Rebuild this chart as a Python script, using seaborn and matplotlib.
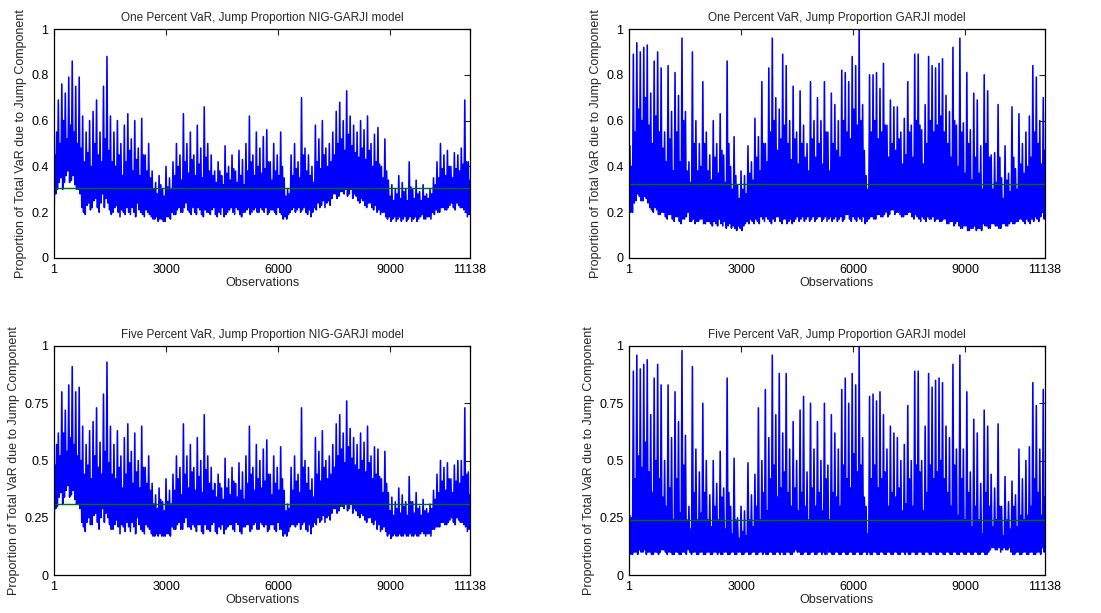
import numpy as np
import pandas as pd
import matplotlib
matplotlib.use("Agg")
import matplotlib.pyplot as plt
import seaborn as sns

# ---------------- data ----------------
n_obs = 11138
x_ticks = [1, 3000, 6000, 9000, 11138]
x_ticklabels = ["1", "3000", "6000", "9000", "11138"]
y_ticks_top = [0, 0.2, 0.4, 0.6, 0.8, 1]
y_ticklabels_top = ["0", "0.2", "0.4", "0.6", "0.8", "1"]
y_ticks_bot = [0, 0.25, 0.5, 0.75, 1]
y_ticklabels_bot = ["0", "0.25", "0.5", "0.75", "1"]

titles = [
    "One Percent VaR, Jump Proportion NIG-GARJI model",
    "One Percent VaR, Jump Proportion GARJI model",
    "Five Percent VaR, Jump Proportion NIG-GARJI model",
    "Five Percent VaR, Jump Proportion GARJI model",
]
mean_levels = [0.305, 0.325, 0.312, 0.238]

# Each series is read as 120 consecutive blocks of ~93 observations.
# Per block: a low, a spike high, a second low and a within-band high.

# ---- One percent, NIG-GARJI ----
nig1_lo = [0.15, 0.30, 0.35, 0.33, 0.38, 0.34, 0.32, 0.30, 0.22, 0.19,
           0.24, 0.22, 0.26, 0.20, 0.28, 0.26, 0.21, 0.20, 0.23, 0.18,
           0.20, 0.22, 0.19, 0.20, 0.24, 0.20, 0.18, 0.20, 0.18, 0.17,
           0.16, 0.17, 0.16, 0.18, 0.20, 0.19, 0.22, 0.20, 0.24, 0.20,
           0.22, 0.19, 0.21, 0.18, 0.20, 0.19, 0.22, 0.18, 0.19, 0.18,
           0.20, 0.22, 0.19, 0.21, 0.18, 0.20, 0.22, 0.20, 0.22, 0.20,
           0.21, 0.22, 0.20, 0.21, 0.19, 0.20, 0.17, 0.17, 0.20, 0.22,
           0.21, 0.20, 0.22, 0.19, 0.18, 0.22, 0.24, 0.23, 0.22, 0.25,
           0.26, 0.28, 0.27, 0.29, 0.30, 0.28, 0.26, 0.27, 0.24, 0.25,
           0.22, 0.24, 0.21, 0.20, 0.19, 0.20, 0.17, 0.16, 0.18, 0.17,
           0.16, 0.18, 0.17, 0.16, 0.18, 0.17, 0.19, 0.17, 0.18, 0.20,
           0.21, 0.20, 0.22, 0.21, 0.23, 0.22, 0.24, 0.22, 0.21, 0.18]
nig1_hi = [0.45, 0.69, 0.76, 0.72, 0.79, 0.86, 0.75, 0.79, 0.62, 0.55,
           0.60, 0.64, 0.69, 0.55, 0.75, 0.88, 0.62, 0.55, 0.60, 0.50,
           0.58, 0.63, 0.52, 0.60, 0.48, 0.61, 0.45, 0.50, 0.38, 0.33,
           0.36, 0.30, 0.40, 0.35, 0.42, 0.50, 0.45, 0.63, 0.50, 0.55,
           0.45, 0.58, 0.48, 0.66, 0.50, 0.45, 0.38, 0.42, 0.36, 0.49,
           0.40, 0.45, 0.38, 0.47, 0.43, 0.50, 0.62, 0.45, 0.55, 0.48,
           0.53, 0.56, 0.42, 0.50, 0.45, 0.55, 0.35, 0.30, 0.45, 0.50,
           0.42, 0.70, 0.48, 0.45, 0.40, 0.58, 0.52, 0.60, 0.48, 0.50,
           0.55, 0.64, 0.68, 0.60, 0.73, 0.62, 0.58, 0.55, 0.60, 0.56,
           0.62, 0.50, 0.54, 0.57, 0.40, 0.52, 0.34, 0.32, 0.30, 0.36,
           0.33, 0.30, 0.42, 0.30, 0.34, 0.29, 0.32, 0.28, 0.30, 0.35,
           0.42, 0.50, 0.45, 0.47, 0.40, 0.46, 0.45, 0.48, 0.69, 0.42]
nig1_lo2 = [0.28, 0.33, 0.30, 0.36, 0.33, 0.36, 0.30, 0.28, 0.20, 0.23,
            0.21, 0.25, 0.22, 0.24, 0.22, 0.24, 0.19, 0.22, 0.20, 0.21,
            0.19, 0.20, 0.22, 0.18, 0.21, 0.19, 0.21, 0.19, 0.17, 0.18,
            0.17, 0.16, 0.18, 0.17, 0.19, 0.21, 0.20, 0.22, 0.21, 0.19,
            0.20, 0.22, 0.19, 0.21, 0.20, 0.21, 0.19, 0.20, 0.22, 0.19,
            0.21, 0.20, 0.22, 0.19, 0.20, 0.21, 0.19, 0.21, 0.20, 0.22,
            0.20, 0.19, 0.21, 0.20, 0.22, 0.19, 0.18, 0.19, 0.21, 0.20,
            0.22, 0.21, 0.20, 0.21, 0.20, 0.21, 0.22, 0.25, 0.24, 0.23,
            0.28, 0.26, 0.29, 0.28, 0.27, 0.30, 0.28, 0.25, 0.26, 0.23,
            0.24, 0.22, 0.23, 0.21, 0.20, 0.18, 0.18, 0.17, 0.16, 0.18,
            0.17, 0.16, 0.18, 0.17, 0.16, 0.18, 0.17, 0.18, 0.17, 0.19,
            0.20, 0.22, 0.21, 0.22, 0.24, 0.21, 0.23, 0.22, 0.20, 0.19]
nig1_mid = [0.55, 0.50, 0.60, 0.52, 0.58, 0.55, 0.50, 0.48, 0.42, 0.46,
            0.40, 0.50, 0.45, 0.42, 0.52, 0.47, 0.42, 0.40, 0.45, 0.36,
            0.42, 0.47, 0.38, 0.43, 0.36, 0.45, 0.38, 0.35, 0.30, 0.28,
            0.32, 0.27, 0.31, 0.30, 0.36, 0.40, 0.34, 0.42, 0.37, 0.43,
            0.36, 0.41, 0.35, 0.44, 0.38, 0.36, 0.33, 0.38, 0.32, 0.37,
            0.34, 0.39, 0.33, 0.36, 0.32, 0.38, 0.42, 0.36, 0.40, 0.37,
            0.39, 0.42, 0.34, 0.38, 0.36, 0.40, 0.27, 0.28, 0.36, 0.39,
            0.35, 0.45, 0.38, 0.36, 0.33, 0.42, 0.39, 0.45, 0.40, 0.42,
            0.45, 0.50, 0.52, 0.47, 0.54, 0.49, 0.46, 0.44, 0.48, 0.43,
            0.47, 0.40, 0.42, 0.41, 0.35, 0.38, 0.27, 0.25, 0.28, 0.26,
            0.29, 0.25, 0.31, 0.26, 0.28, 0.25, 0.27, 0.26, 0.28, 0.32,
            0.35, 0.39, 0.36, 0.40, 0.35, 0.39, 0.38, 0.41, 0.42, 0.34]

# ---- One percent, GARJI ----
garji1_lo = [0.17, 0.20, 0.25, 0.27, 0.25, 0.26, 0.22, 0.20, 0.21, 0.19,
             0.20, 0.17, 0.19, 0.16, 0.18, 0.15, 0.17, 0.20, 0.16, 0.15,
             0.16, 0.17, 0.15, 0.16, 0.14, 0.15, 0.17, 0.14, 0.13, 0.15,
             0.14, 0.12, 0.13, 0.14, 0.16, 0.17, 0.15, 0.16, 0.18, 0.16,
             0.17, 0.15, 0.16, 0.18, 0.15, 0.17, 0.16, 0.15, 0.17, 0.16,
             0.18, 0.17, 0.16, 0.18, 0.17, 0.18, 0.17, 0.16, 0.18, 0.17,
             0.16, 0.18, 0.17, 0.19, 0.16, 0.17, 0.18, 0.16, 0.15, 0.17,
             0.18, 0.17, 0.19, 0.18, 0.20, 0.19, 0.21, 0.20, 0.19, 0.18,
             0.19, 0.20, 0.17, 0.18, 0.16, 0.17, 0.18, 0.17, 0.16, 0.17,
             0.16, 0.17, 0.15, 0.16, 0.15, 0.14, 0.13, 0.14, 0.12, 0.13,
             0.12, 0.13, 0.15, 0.14, 0.13, 0.15, 0.14, 0.13, 0.15, 0.14,
             0.16, 0.15, 0.16, 0.17, 0.15, 0.16, 0.17, 0.18, 0.16, 0.20]
garji1_hi = [0.49, 0.89, 0.94, 0.90, 0.92, 0.93, 0.72, 0.86, 0.90, 0.83,
             0.55, 0.84, 0.64, 0.81, 0.71, 0.96, 0.64, 0.42, 0.90, 0.60,
             0.50, 0.77, 0.55, 0.45, 0.60, 0.50, 0.63, 0.45, 0.86, 0.40,
             0.53, 0.32, 0.38, 0.36, 0.49, 0.42, 0.61, 0.53, 0.77, 0.50,
             0.83, 0.96, 0.70, 0.65, 0.89, 0.84, 0.60, 0.75, 0.55, 0.73,
             0.58, 0.50, 0.77, 0.60, 0.70, 0.60, 0.77, 0.55, 0.72, 0.67,
             0.60, 0.82, 0.81, 0.77, 0.88, 0.84, 1.00, 0.67, 0.36, 0.80,
             0.80, 0.81, 0.74, 0.85, 0.58, 0.69, 0.66, 0.66, 0.55, 0.61,
             0.77, 0.58, 0.89, 0.89, 0.56, 0.67, 0.88, 0.84, 0.83, 0.85,
             0.87, 0.71, 0.64, 0.92, 0.58, 0.96, 0.59, 0.81, 0.56, 0.72,
             0.69, 0.49, 0.80, 0.73, 0.45, 0.46, 0.67, 0.35, 0.49, 0.37,
             0.66, 0.39, 0.63, 0.50, 0.55, 0.62, 0.84, 0.79, 0.60, 0.70]
garji1_lo2 = [0.20, 0.24, 0.28, 0.25, 0.27, 0.24, 0.21, 0.22, 0.19, 0.20,
              0.18, 0.19, 0.17, 0.18, 0.16, 0.17, 0.18, 0.16, 0.17, 0.16,
              0.17, 0.15, 0.16, 0.15, 0.16, 0.14, 0.15, 0.16, 0.14, 0.13,
              0.13, 0.14, 0.12, 0.15, 0.15, 0.16, 0.17, 0.15, 0.17, 0.18,
              0.16, 0.17, 0.18, 0.16, 0.17, 0.15, 0.17, 0.16, 0.18, 0.17,
              0.16, 0.18, 0.17, 0.16, 0.18, 0.16, 0.18, 0.17, 0.16, 0.18,
              0.17, 0.16, 0.19, 0.17, 0.18, 0.16, 0.17, 0.18, 0.16, 0.18,
              0.17, 0.19, 0.18, 0.19, 0.18, 0.21, 0.19, 0.20, 0.18, 0.19,
              0.20, 0.18, 0.19, 0.17, 0.18, 0.16, 0.17, 0.18, 0.17, 0.16,
              0.17, 0.15, 0.16, 0.14, 0.16, 0.13, 0.14, 0.12, 0.13, 0.14,
              0.13, 0.12, 0.14, 0.13, 0.15, 0.14, 0.13, 0.15, 0.14, 0.15,
              0.15, 0.16, 0.17, 0.16, 0.17, 0.15, 0.16, 0.17, 0.18, 0.17]
garji1_mid = [0.40, 0.55, 0.65, 0.60, 0.70, 0.58, 0.50, 0.62, 0.55, 0.48,
              0.42, 0.52, 0.38, 0.55, 0.42, 0.60, 0.38, 0.33, 0.50, 0.38,
              0.40, 0.50, 0.38, 0.34, 0.44, 0.37, 0.47, 0.33, 0.50, 0.30,
              0.36, 0.26, 0.30, 0.28, 0.37, 0.34, 0.44, 0.38, 0.50, 0.42,
              0.55, 0.60, 0.47, 0.52, 0.58, 0.50, 0.43, 0.52, 0.41, 0.50,
              0.44, 0.38, 0.52, 0.44, 0.50, 0.41, 0.55, 0.38, 0.50, 0.47,
              0.44, 0.60, 0.55, 0.52, 0.65, 0.58, 0.60, 0.47, 0.30, 0.55,
              0.60, 0.52, 0.55, 0.58, 0.44, 0.50, 0.47, 0.52, 0.41, 0.45,
              0.55, 0.44, 0.60, 0.58, 0.41, 0.50, 0.60, 0.55, 0.58, 0.62,
              0.55, 0.50, 0.44, 0.60, 0.40, 0.55, 0.37, 0.50, 0.34, 0.44,
              0.37, 0.30, 0.50, 0.44, 0.30, 0.33, 0.44, 0.26, 0.34, 0.29,
              0.44, 0.30, 0.41, 0.37, 0.40, 0.44, 0.55, 0.50, 0.41, 0.47]

# ---- Five percent, NIG-GARJI ----
nig5_lo = [0.15, 0.30, 0.36, 0.34, 0.39, 0.35, 0.33, 0.31, 0.23, 0.19,
           0.25, 0.22, 0.27, 0.20, 0.29, 0.27, 0.22, 0.20, 0.24, 0.18,
           0.21, 0.23, 0.19, 0.21, 0.25, 0.20, 0.18, 0.21, 0.18, 0.17,
           0.17, 0.17, 0.17, 0.18, 0.21, 0.20, 0.23, 0.20, 0.25, 0.21,
           0.22, 0.19, 0.22, 0.18, 0.20, 0.19, 0.23, 0.18, 0.20, 0.18,
           0.21, 0.22, 0.19, 0.22, 0.18, 0.21, 0.22, 0.20, 0.23, 0.20,
           0.22, 0.22, 0.20, 0.22, 0.19, 0.20, 0.17, 0.17, 0.21, 0.22,
           0.22, 0.20, 0.23, 0.19, 0.18, 0.23, 0.25, 0.24, 0.23, 0.26,
           0.27, 0.29, 0.28, 0.30, 0.31, 0.29, 0.27, 0.28, 0.25, 0.26,
           0.23, 0.25, 0.22, 0.20, 0.19, 0.21, 0.17, 0.16, 0.18, 0.17,
           0.17, 0.18, 0.17, 0.17, 0.18, 0.17, 0.19, 0.17, 0.18, 0.20,
           0.21, 0.21, 0.23, 0.22, 0.24, 0.23, 0.25, 0.23, 0.22, 0.19]
nig5_hi = [0.48, 0.62, 0.80, 0.72, 0.83, 0.91, 0.80, 0.82, 0.65, 0.57,
           0.63, 0.67, 0.73, 0.58, 0.79, 0.93, 0.65, 0.57, 0.63, 0.52,
           0.60, 0.66, 0.54, 0.62, 0.50, 0.65, 0.47, 0.52, 0.40, 0.35,
           0.38, 0.32, 0.42, 0.37, 0.44, 0.52, 0.47, 0.66, 0.52, 0.57,
           0.47, 0.60, 0.50, 0.70, 0.52, 0.47, 0.40, 0.44, 0.38, 0.51,
           0.42, 0.47, 0.40, 0.49, 0.45, 0.52, 0.65, 0.47, 0.57, 0.50,
           0.55, 0.59, 0.44, 0.52, 0.47, 0.56, 0.37, 0.31, 0.47, 0.52,
           0.44, 0.73, 0.50, 0.47, 0.42, 0.60, 0.54, 0.63, 0.50, 0.52,
           0.57, 0.66, 0.70, 0.62, 0.76, 0.64, 0.60, 0.57, 0.62, 0.58,
           0.65, 0.52, 0.56, 0.55, 0.42, 0.54, 0.36, 0.34, 0.32, 0.38,
           0.35, 0.32, 0.43, 0.32, 0.36, 0.30, 0.33, 0.29, 0.31, 0.37,
           0.44, 0.50, 0.47, 0.49, 0.42, 0.48, 0.50, 0.50, 0.73, 0.45]
nig5_lo2 = [0.29, 0.34, 0.31, 0.37, 0.34, 0.37, 0.31, 0.29, 0.21, 0.23,
            0.22, 0.26, 0.23, 0.25, 0.23, 0.25, 0.20, 0.22, 0.21, 0.22,
            0.19, 0.21, 0.23, 0.18, 0.22, 0.19, 0.22, 0.20, 0.17, 0.18,
            0.18, 0.17, 0.18, 0.17, 0.20, 0.22, 0.20, 0.23, 0.21, 0.20,
            0.21, 0.22, 0.19, 0.22, 0.20, 0.22, 0.19, 0.21, 0.22, 0.20,
            0.22, 0.20, 0.23, 0.19, 0.21, 0.22, 0.19, 0.22, 0.20, 0.23,
            0.21, 0.19, 0.22, 0.20, 0.23, 0.20, 0.18, 0.19, 0.22, 0.21,
            0.23, 0.22, 0.20, 0.22, 0.21, 0.22, 0.23, 0.26, 0.25, 0.24,
            0.29, 0.27, 0.30, 0.29, 0.28, 0.31, 0.29, 0.26, 0.27, 0.24,
            0.25, 0.23, 0.24, 0.22, 0.20, 0.19, 0.18, 0.17, 0.17, 0.18,
            0.17, 0.17, 0.18, 0.17, 0.17, 0.18, 0.18, 0.18, 0.17, 0.20,
            0.21, 0.23, 0.22, 0.23, 0.25, 0.22, 0.24, 0.23, 0.21, 0.20]
nig5_mid = [0.57, 0.52, 0.62, 0.54, 0.60, 0.57, 0.52, 0.50, 0.44, 0.48,
            0.42, 0.52, 0.47, 0.44, 0.54, 0.49, 0.44, 0.42, 0.47, 0.38,
            0.44, 0.49, 0.40, 0.45, 0.38, 0.47, 0.40, 0.37, 0.31, 0.29,
            0.33, 0.28, 0.32, 0.31, 0.37, 0.42, 0.35, 0.44, 0.38, 0.45,
            0.37, 0.43, 0.36, 0.46, 0.40, 0.37, 0.34, 0.40, 0.33, 0.38,
            0.35, 0.41, 0.34, 0.37, 0.33, 0.40, 0.44, 0.37, 0.42, 0.38,
            0.41, 0.44, 0.35, 0.40, 0.37, 0.42, 0.28, 0.29, 0.37, 0.41,
            0.36, 0.47, 0.40, 0.37, 0.34, 0.44, 0.41, 0.47, 0.42, 0.44,
            0.47, 0.52, 0.55, 0.49, 0.56, 0.51, 0.48, 0.46, 0.50, 0.45,
            0.49, 0.42, 0.44, 0.43, 0.36, 0.40, 0.28, 0.26, 0.29, 0.27,
            0.30, 0.26, 0.32, 0.27, 0.29, 0.26, 0.28, 0.27, 0.29, 0.33,
            0.36, 0.41, 0.37, 0.42, 0.36, 0.41, 0.40, 0.43, 0.44, 0.35]

# ---- Five percent, GARJI ----
garji5_lo = [0.10, 0.09, 0.10, 0.11, 0.10, 0.09, 0.10, 0.09, 0.10, 0.10,
             0.11, 0.09, 0.10, 0.09, 0.10, 0.09, 0.10, 0.11, 0.09, 0.10,
             0.09, 0.10, 0.09, 0.10, 0.09, 0.10, 0.10, 0.09, 0.10, 0.09,
             0.10, 0.09, 0.10, 0.09, 0.10, 0.09, 0.10, 0.09, 0.10, 0.10,
             0.09, 0.10, 0.09, 0.10, 0.10, 0.09, 0.10, 0.09, 0.11, 0.10,
             0.09, 0.10, 0.09, 0.10, 0.09, 0.10, 0.10, 0.09, 0.10, 0.09,
             0.10, 0.09, 0.10, 0.09, 0.10, 0.09, 0.10, 0.09, 0.10, 0.10,
             0.09, 0.10, 0.09, 0.10, 0.09, 0.10, 0.09, 0.10, 0.09, 0.10,
             0.10, 0.09, 0.10, 0.09, 0.10, 0.09, 0.10, 0.09, 0.10, 0.09,
             0.10, 0.09, 0.10, 0.09, 0.10, 0.09, 0.10, 0.09, 0.10, 0.09,
             0.10, 0.09, 0.10, 0.09, 0.11, 0.12, 0.11, 0.10, 0.12, 0.11,
             0.10, 0.09, 0.10, 0.09, 0.10, 0.09, 0.10, 0.09, 0.10, 0.12]
garji5_hi = [0.26, 0.89, 0.96, 0.90, 0.92, 0.94, 0.70, 0.86, 0.92, 0.83,
             0.50, 0.83, 0.60, 0.80, 0.67, 0.98, 0.61, 0.30, 0.91, 0.55,
             0.45, 0.75, 0.50, 0.35, 0.50, 0.40, 0.54, 0.38, 0.86, 0.30,
             0.51, 0.25, 0.30, 0.28, 0.49, 0.35, 0.44, 0.73, 0.50, 0.81,
             0.60, 0.96, 0.70, 0.88, 0.62, 0.88, 0.55, 0.67, 0.50, 0.72,
             0.78, 0.45, 0.75, 0.55, 0.67, 0.50, 0.75, 0.48, 0.70, 0.62,
             0.55, 0.81, 0.86, 0.75, 0.88, 0.83, 1.00, 0.60, 0.30, 0.78,
             0.79, 0.76, 0.80, 0.70, 0.55, 0.65, 0.62, 0.60, 0.50, 0.57,
             0.74, 0.50, 0.89, 0.89, 0.50, 0.65, 0.88, 0.82, 0.85, 0.86,
             0.84, 0.65, 0.60, 0.92, 0.55, 0.96, 0.55, 0.80, 0.45, 0.68,
             0.62, 0.40, 0.72, 0.65, 0.44, 0.38, 0.66, 0.30, 0.43, 0.32,
             0.41, 0.35, 0.55, 0.42, 0.50, 0.56, 0.84, 0.74, 0.55, 0.81]
garji5_lo2 = [0.09, 0.10, 0.09, 0.10, 0.11, 0.10, 0.09, 0.10, 0.09, 0.11,
              0.10, 0.10, 0.09, 0.10, 0.09, 0.10, 0.09, 0.10, 0.10, 0.09,
              0.10, 0.09, 0.10, 0.09, 0.10, 0.09, 0.09, 0.10, 0.09, 0.10,
              0.09, 0.10, 0.09, 0.10, 0.09, 0.10, 0.09, 0.10, 0.09, 0.09,
              0.10, 0.09, 0.10, 0.09, 0.09, 0.10, 0.09, 0.10, 0.10, 0.09,
              0.10, 0.09, 0.10, 0.09, 0.10, 0.09, 0.09, 0.10, 0.09, 0.10,
              0.09, 0.10, 0.09, 0.10, 0.09, 0.10, 0.09, 0.10, 0.09, 0.09,
              0.10, 0.09, 0.10, 0.09, 0.10, 0.09, 0.10, 0.09, 0.10, 0.09,
              0.09, 0.10, 0.09, 0.10, 0.09, 0.10, 0.09, 0.10, 0.09, 0.10,
              0.09, 0.10, 0.09, 0.10, 0.09, 0.10, 0.09, 0.10, 0.09, 0.10,
              0.09, 0.10, 0.09, 0.10, 0.12, 0.11, 0.12, 0.11, 0.11, 0.12,
              0.09, 0.10, 0.09, 0.10, 0.09, 0.10, 0.09, 0.10, 0.09, 0.10]
garji5_mid = [0.25, 0.42, 0.52, 0.47, 0.58, 0.45, 0.36, 0.50, 0.42, 0.34,
              0.30, 0.38, 0.24, 0.42, 0.27, 0.48, 0.24, 0.20, 0.36, 0.24,
              0.27, 0.36, 0.24, 0.21, 0.30, 0.24, 0.34, 0.20, 0.36, 0.18,
              0.24, 0.16, 0.19, 0.17, 0.24, 0.21, 0.30, 0.24, 0.36, 0.28,
              0.42, 0.48, 0.34, 0.38, 0.45, 0.36, 0.30, 0.38, 0.28, 0.36,
              0.30, 0.24, 0.38, 0.30, 0.36, 0.28, 0.42, 0.24, 0.36, 0.34,
              0.30, 0.48, 0.42, 0.38, 0.53, 0.45, 0.48, 0.34, 0.18, 0.42,
              0.48, 0.38, 0.42, 0.45, 0.30, 0.36, 0.34, 0.38, 0.28, 0.31,
              0.42, 0.30, 0.48, 0.45, 0.28, 0.36, 0.48, 0.42, 0.45, 0.50,
              0.42, 0.36, 0.30, 0.48, 0.26, 0.42, 0.24, 0.36, 0.21, 0.30,
              0.24, 0.18, 0.36, 0.30, 0.21, 0.24, 0.30, 0.17, 0.24, 0.20,
              0.30, 0.21, 0.26, 0.24, 0.26, 0.30, 0.42, 0.36, 0.26, 0.34]

series = [
    (nig1_lo, nig1_hi, nig1_lo2, nig1_mid),
    (garji1_lo, garji1_hi, garji1_lo2, garji1_mid),
    (nig5_lo, nig5_hi, nig5_lo2, nig5_mid),
    (garji5_lo, garji5_hi, garji5_lo2, garji5_mid),
]

# ---------------- style ----------------
sns.set_style("white")
plt.rcParams["font.family"] = ["Liberation Sans", "DejaVu Sans"]
fs_title = 8.5
fs = 9

fig = plt.figure(figsize=(11.01, 6.13), dpi=100)
W, H = 1101.0, 613.0
ax_w, ax_h = 416 / W, 229 / H
lefts = [54 / W, 629 / W, 54 / W, 629 / W]
bottoms = [1 - 258 / H, 1 - 258 / H, 1 - 575 / H, 1 - 575 / H]

for k in range(4):
    ax = fig.add_axes([lefts[k], bottoms[k], ax_w, ax_h])
    a, b, c, d = series[k]
    vals = [v for quad in zip(a, b, c, d) for v in quad]
    obs = np.linspace(1, n_obs, len(vals))
    df = pd.DataFrame({"Observations": obs, "value": vals})
    sns.lineplot(data=df, x="Observations", y="value", ax=ax,
                 color="#0000FF", linewidth=1.15, estimator=None, sort=False)
    ax.axhline(mean_levels[k], color="#007000", linewidth=1.0)
    ax.set_xlim(1, n_obs)
    ax.set_ylim(0, 1)
    ax.set_xticks(x_ticks)
    ax.set_xticklabels(x_ticklabels, fontsize=fs)
    if k < 2:
        ax.set_yticks(y_ticks_top)
        ax.set_yticklabels(y_ticklabels_top, fontsize=fs)
    else:
        ax.set_yticks(y_ticks_bot)
        ax.set_yticklabels(y_ticklabels_bot, fontsize=fs)
    ax.tick_params(direction="in", length=4, width=0.8, top=True, right=True,
                   colors="#222222", labelcolor="black", pad=4)
    for sp in ax.spines.values():
        sp.set_visible(True)
        sp.set_color("black")
        sp.set_linewidth(0.9)
    ax.set_title(titles[k], fontsize=fs_title, pad=6)
    ax.set_xlabel("Observations", fontsize=fs, labelpad=1)
    ax.set_ylabel("Proportion of Total VaR due to Jump Component", fontsize=fs, labelpad=3)

fig.savefig("out.png", dpi=100)
